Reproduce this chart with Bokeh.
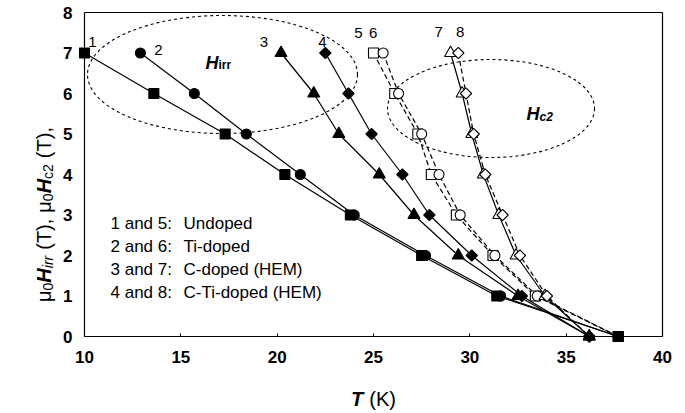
import math
from bokeh.plotting import figure
from bokeh.models import Range1d, Label, FixedTicker, LinearAxis
from bokeh.embed import file_html
from bokeh.resources import INLINE

# ---------------- data ----------------
H_levels = [7, 6, 5, 4, 3, 2, 1, 0]
T1 = [10.0, 13.6, 17.3, 20.4, 23.8, 27.5, 31.4, 37.7]   # Hirr undoped
T2 = [12.9, 15.7, 18.4, 21.2, 24.0, 27.7, 31.6, 37.7]   # Hirr Ti-doped
T3 = [20.2, 21.9, 23.2, 25.3, 27.1, 29.4, 32.5, 36.2]   # Hirr C-doped
T4 = [22.5, 23.7, 24.9, 26.5, 27.9, 30.1, 32.7, 36.2]   # Hirr C-Ti-doped
T5 = [25.0, 26.1, 27.3, 28.0, 29.3, 31.2, 33.4, 37.7]   # Hc2 undoped
T6 = [25.5, 26.3, 27.5, 28.4, 29.5, 31.3, 33.5, 37.7]   # Hc2 Ti-doped
T7 = [29.0, 29.6, 30.1, 30.7, 31.5, 32.4, 33.9, 36.2]   # Hc2 C-doped
T8 = [29.4, 29.8, 30.2, 30.8, 31.7, 32.6, 34.0, 36.2]   # Hc2 C-Ti-doped
curve_numbers = ["1", "2", "3", "4", "5", "6", "7", "8"]
legend_keys = ["1 and 5:", "2 and 6:", "3 and 7:", "4 and 8:"]
legend_names = ["Undoped", "Ti-doped", "C-doped (HEM)", "C-Ti-doped (HEM)"]
x_ticks = [10, 15, 20, 25, 30, 35, 40]
y_ticks = [0, 1, 2, 3, 4, 5, 6, 7, 8]

FONT = "Liberation Sans"
W, H = 685, 413
FL, FR, FT, FB = 84, 662, 12, 336   # axis box edges in px
X0, X1, Y0, Y1 = x_ticks[0], x_ticks[-1], y_ticks[0], y_ticks[-1]
SX = (FR - FL) / (X1 - X0)
SY = (FB - FT) / (Y1 - Y0)

# the frame spans the whole canvas; axes are pinned at the data box edges
p = figure(width=W, height=H,
           x_range=Range1d(X0 - FL / SX, X1 + (W - FR) / SX),
           y_range=Range1d(Y0 - (H - FB) / SY, Y1 + FT / SY),
           output_backend="svg", toolbar_location=None,
           min_border_left=0, min_border_right=0, min_border_top=0, min_border_bottom=0)
p.title.visible = False
p.background_fill_color = "white"
p.border_fill_color = "white"
p.grid.visible = False
p.outline_line_color = None


def style_axis(ax):
    ax.axis_line_color = "black"
    ax.axis_line_width = 1.2
    ax.major_tick_line_color = "black"
    ax.minor_tick_line_color = None
    ax.major_label_text_font = FONT
    ax.major_label_text_font_style = "bold"
    ax.major_label_text_font_size = "17px"
    ax.major_label_text_color = "black"
    ax.major_tick_out = 0


xa = p.xaxis[0]
ya = p.yaxis[0]
style_axis(xa)
style_axis(ya)
xa.fixed_location = Y0
ya.fixed_location = X0
xa.bounds = (X0, X1)
ya.bounds = (Y0, Y1)
xa.ticker = FixedTicker(ticks=x_ticks)
ya.ticker = FixedTicker(ticks=y_ticks)
xa.major_tick_in = 3
ya.major_tick_in = 0
xa.major_label_standoff = 14
ya.major_label_standoff = 12

# top and right border lines of the box
top = LinearAxis(fixed_location=Y1, bounds=(X0, X1), ticker=FixedTicker(ticks=[]))
right = LinearAxis(fixed_location=X1, bounds=(Y0, Y1), ticker=FixedTicker(ticks=[]))
for ax in (top, right):
    ax.axis_line_color = "black"
    ax.axis_line_width = 1.2
    ax.major_tick_line_color = None
    ax.minor_tick_line_color = None
    ax.major_label_text_font_size = "0px"
p.add_layout(top, "above")
p.add_layout(right, "right")


def px2x(px):
    return X0 + (px - FL) / SX


def px2y(py):
    return Y0 + (FB - py) / SY


# ---------------- ellipses ----------------
p.ellipse(x=[px2x((87 + 357) / 2)], y=[px2y((15 + 133) / 2)],
          width=(357 - 87) / SX, height=(133 - 15) / SY,
          fill_color=None, line_color="black", line_width=1.1, line_dash="3 3")
p.ellipse(x=[px2x((387 + 594) / 2)], y=[px2y((59 + 157) / 2)],
          width=(594 - 387) / SX, height=(157 - 59) / SY,
          fill_color=None, line_color="black", line_width=1.1, line_dash="3 3")

# ---------------- curves ----------------
LW = 1.2
series = [
    (T1, "square", True, "solid", 10),
    (T2, "circle", True, "solid", 10),
    (T3, "triangle", True, "solid", 12),
    (T4, "diamond", True, "solid", 8),
    (T5, "square", False, "5 3", 10),
    (T6, "circle", False, "5 3", 10),
    (T7, "triangle", False, "solid", 12),
    (T8, "diamond", False, "5 3", 8),
]
for T, mk, filled, dash, sz in series:
    p.line(T, H_levels, line_color="black", line_width=LW, line_dash=dash)
# open markers first, filled markers on top
for T, mk, filled, dash, sz in sorted(series, key=lambda s: s[2]):
    fill = "black" if filled else "white"
    if mk == "diamond":
        p.scatter(T, H_levels, marker="square", angle=math.pi / 4, size=sz,
                  fill_color=fill, line_color="black", line_width=1.1)
    else:
        p.scatter(T, H_levels, marker=mk, size=sz,
                  fill_color=fill, line_color="black", line_width=1.1)

# ---------------- curve numbers ----------------
num_offsets = [(8, 11), (18, 3), (-17, 11), (-3, 11), (-15, 20), (-10, 20), (-12, 21), (2, 21)]
for (T, *_), num, (dx, dy) in zip(series, curve_numbers, num_offsets):
    p.add_layout(Label(x=T[0], y=H_levels[0], x_offset=dx, y_offset=dy, text=num,
                       text_font=FONT, text_font_size="15px", text_align="center",
                       text_baseline="middle", text_color="black"))


def lab(px, py, text, size, style="normal", align="left", baseline="alphabetic", angle=0.0):
    p.add_layout(Label(x=px2x(px), y=px2y(py), text=text, text_font=FONT,
                       text_font_size=f"{size}px", text_font_style=style,
                       text_align=align, text_baseline=baseline, angle=angle,
                       text_color="black"))


# ---------------- H_irr / H_c2 annotations ----------------
lab(205, 62, "H", 18, "bold italic")
lab(218, 64, "irr", 12, "bold")
lab(526, 113, "H", 18, "bold italic")
lab(539, 116, "c2", 12, "bold italic")

# ---------------- legend text ----------------
row_y = [223, 246, 269, 292]
for ry, k, n in zip(row_y, legend_keys, legend_names):
    lab(110, ry, k, 17, baseline="middle")
    lab(183, ry, n, 17, baseline="middle")

# ---------------- axis titles ----------------
WID = {"μ": 576, "0": 556, "2": 556, "H": 722, "i": 222, "r": 333, " ": 278, "(": 333,
       "T": 611, ")": 333, ",": 278, "c": 500, "K": 667}
WID_B = {"H": 722, "i": 278, "r": 389, "T": 611, "c": 556, "2": 556}


def width(text, size, bold=False):
    tot = 0
    for ch in text:
        tot += (WID_B.get(ch, WID.get(ch, 556)) if bold else WID.get(ch, 556))
    return tot * size / 1000.0


# pieces: (text, size, style, subscript shift, space before in em)
# x title: "T (K)"
xt = [("T", 20, "bold italic", 0, 0.0), ("(K)", 20, "normal", 0, 0.3)]
tot = sum(width(t, s, "bold" in st) + g * s for t, s, st, _, g in xt)
cx = (FL + FR) / 2 - tot / 2
for t, s, st, sub, g in xt:
    cx += g * s
    lab(cx, 398, t, s, st)
    cx += width(t, s, "bold" in st)

# y title, rotated: "μ0Hirr (T), μ0Hc2 (T),"
MS, SS = 20, 14
yt = [("μ", MS, "normal", 0, 0.0), ("0", SS, "normal", 4, 0.0), ("H", MS, "bold italic", 0, 0.0),
      ("irr", SS, "italic", 4, 0.0), ("(T),", MS, "normal", 0, 0.3), ("μ", MS, "normal", 0, 0.3),
      ("0", SS, "normal", 4, 0.0), ("H", MS, "bold italic", 0, 0.0), ("c2", SS, "normal", 4, 0.0),
      ("(T),", MS, "normal", 0, 0.3)]
tot = sum(width(t, s, "bold" in st) + g * s for t, s, st, _, g in yt)
cy = 214 + tot / 2
base_x = 43
for t, s, st, sub, g in yt:
    cy -= g * s
    lab(base_x + sub, cy, t, s, st, angle=math.pi / 2)
    cy -= width(t, s, "bold" in st)

open("out.html", "w").write(file_html(p, INLINE))
